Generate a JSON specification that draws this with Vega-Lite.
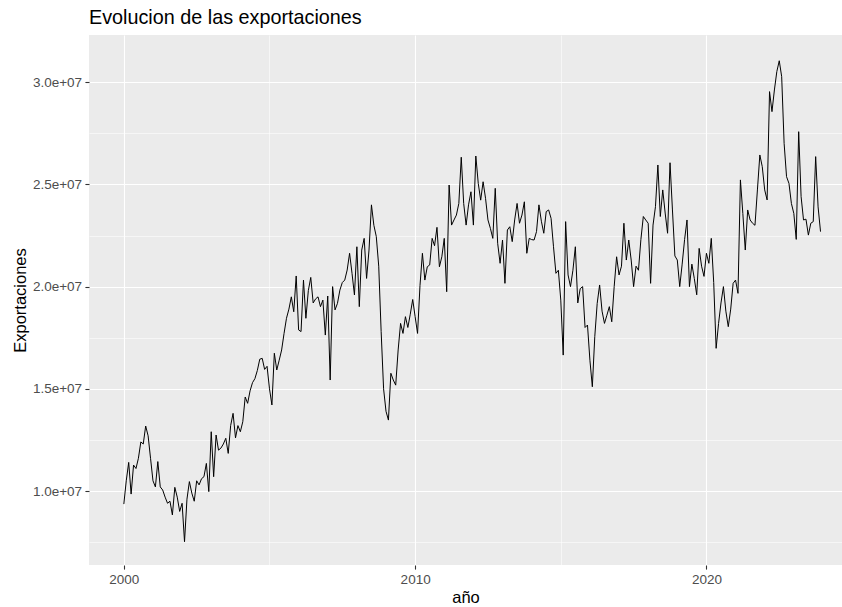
{
  "$schema": "https://vega.github.io/schema/vega-lite/v6.json",
  "width": 753,
  "height": 530,
  "autosize": {"type": "none"},
  "padding": {"left": 89, "top": 35, "right": 0, "bottom": 42},
  "background": "white",
  "title": {"text": "Evolucion de las exportaciones", "anchor": "start", "frame": "group", "font": "Liberation Sans", "fontSize": 19.8, "fontWeight": "normal", "color": "#000000", "offset": 7},
  "config": {
    "view": {"fill": "#EBEBEB", "stroke": null},
    "axis": {"domain": false, "labelFont": "Liberation Sans", "labelFontSize": 13.5, "labelColor": "#4D4D4D", "tickColor": "#333333", "tickSize": 4.1, "tickWidth": 1.1, "gridColor": "#FFFFFF", "gridOpacity": 1, "titleFont": "Liberation Sans", "titleFontSize": 16.5, "titleFontWeight": "normal", "titleColor": "#000000", "labelPadding": 3.3, "titlePadding": 4, "labelOverlap": false, "labelFlush": false}
  },
  "data": {"values": [
    {"t":2000,"v":9.36e6},{"t":2000.0833,"v":10.5e6},{"t":2000.1667,"v":11.4e6},{"t":2000.25,"v":9.85e6},{"t":2000.3333,"v":11.27e6},{"t":2000.4167,"v":11.1e6},{"t":2000.5,"v":11.6e6},{"t":2000.5833,"v":12.4e6},{"t":2000.6667,"v":12.3e6},{"t":2000.75,"v":13.18e6},{"t":2000.8333,"v":12.7e6},{"t":2000.9167,"v":11.6e6},
    {"t":2001,"v":10.5e6},{"t":2001.0833,"v":10.2e6},{"t":2001.1667,"v":11.44e6},{"t":2001.25,"v":10.2e6},{"t":2001.3333,"v":10.05e6},{"t":2001.4167,"v":9.7e6},{"t":2001.5,"v":9.4e6},{"t":2001.5833,"v":9.5e6},{"t":2001.6667,"v":8.83e6},{"t":2001.75,"v":10.18e6},{"t":2001.8333,"v":9.7e6},{"t":2001.9167,"v":9.0e6},
    {"t":2002,"v":9.4e6},{"t":2002.0833,"v":7.52e6},{"t":2002.1667,"v":9.6e6},{"t":2002.25,"v":10.46e6},{"t":2002.3333,"v":9.9e6},{"t":2002.4167,"v":9.5e6},{"t":2002.5,"v":10.5e6},{"t":2002.5833,"v":10.3e6},{"t":2002.6667,"v":10.6e6},{"t":2002.75,"v":10.7e6},{"t":2002.8333,"v":11.35e6},{"t":2002.9167,"v":9.97e6},
    {"t":2003,"v":12.9e6},{"t":2003.0833,"v":10.7e6},{"t":2003.1667,"v":12.74e6},{"t":2003.25,"v":12.0e6},{"t":2003.3333,"v":12.1e6},{"t":2003.4167,"v":12.3e6},{"t":2003.5,"v":12.58e6},{"t":2003.5833,"v":11.84e6},{"t":2003.6667,"v":13.2e6},{"t":2003.75,"v":13.8e6},{"t":2003.8333,"v":12.6e6},{"t":2003.9167,"v":13.2e6},
    {"t":2004,"v":12.9e6},{"t":2004.0833,"v":13.39e6},{"t":2004.1667,"v":14.6e6},{"t":2004.25,"v":14.29e6},{"t":2004.3333,"v":14.9e6},{"t":2004.4167,"v":15.3e6},{"t":2004.5,"v":15.5e6},{"t":2004.5833,"v":15.9e6},{"t":2004.6667,"v":16.45e6},{"t":2004.75,"v":16.49e6},{"t":2004.8333,"v":15.95e6},{"t":2004.9167,"v":16.1e6},
    {"t":2005,"v":15.0e6},{"t":2005.0833,"v":14.21e6},{"t":2005.1667,"v":16.74e6},{"t":2005.25,"v":15.92e6},{"t":2005.3333,"v":16.4e6},{"t":2005.4167,"v":16.9e6},{"t":2005.5,"v":17.71e6},{"t":2005.5833,"v":18.45e6},{"t":2005.6667,"v":18.9e6},{"t":2005.75,"v":19.5e6},{"t":2005.8333,"v":18.77e6},{"t":2005.9167,"v":20.52e6},
    {"t":2006,"v":17.88e6},{"t":2006.0833,"v":17.8e6},{"t":2006.1667,"v":20.32e6},{"t":2006.25,"v":18.45e6},{"t":2006.3333,"v":19.8e6},{"t":2006.4167,"v":20.45e6},{"t":2006.5,"v":19.2e6},{"t":2006.5833,"v":19.4e6},{"t":2006.6667,"v":19.5e6},{"t":2006.75,"v":19.02e6},{"t":2006.8333,"v":19.34e6},{"t":2006.9167,"v":17.63e6},
    {"t":2007,"v":19.54e6},{"t":2007.0833,"v":15.43e6},{"t":2007.1667,"v":20.0e6},{"t":2007.25,"v":18.86e6},{"t":2007.3333,"v":19.18e6},{"t":2007.4167,"v":19.83e6},{"t":2007.5,"v":20.2e6},{"t":2007.5833,"v":20.32e6},{"t":2007.6667,"v":20.81e6},{"t":2007.75,"v":21.63e6},{"t":2007.8333,"v":20.65e6},{"t":2007.9167,"v":19.59e6},
    {"t":2008,"v":21.95e6},{"t":2008.0833,"v":19.02e6},{"t":2008.1667,"v":21.79e6},{"t":2008.25,"v":22.36e6},{"t":2008.3333,"v":20.4e6},{"t":2008.4167,"v":21.79e6},{"t":2008.5,"v":24.0e6},{"t":2008.5833,"v":23.0e6},{"t":2008.6667,"v":22.45e6},{"t":2008.75,"v":21.0e6},{"t":2008.8333,"v":17.8e6},{"t":2008.9167,"v":15.0e6},
    {"t":2009,"v":13.9e6},{"t":2009.0833,"v":13.47e6},{"t":2009.1667,"v":15.76e6},{"t":2009.25,"v":15.43e6},{"t":2009.3333,"v":15.18e6},{"t":2009.4167,"v":16.9e6},{"t":2009.5,"v":18.2e6},{"t":2009.5833,"v":17.71e6},{"t":2009.6667,"v":18.53e6},{"t":2009.75,"v":18.0e6},{"t":2009.8333,"v":18.65e6},{"t":2009.9167,"v":19.37e6},
    {"t":2010,"v":18.53e6},{"t":2010.0833,"v":17.71e6},{"t":2010.1667,"v":20.05e6},{"t":2010.25,"v":21.63e6},{"t":2010.3333,"v":20.32e6},{"t":2010.4167,"v":20.97e6},{"t":2010.5,"v":21.06e6},{"t":2010.5833,"v":22.36e6},{"t":2010.6667,"v":22.0e6},{"t":2010.75,"v":22.9e6},{"t":2010.8333,"v":20.97e6},{"t":2010.9167,"v":21.46e6},
    {"t":2011,"v":22.36e6},{"t":2011.0833,"v":19.75e6},{"t":2011.1667,"v":24.97e6},{"t":2011.25,"v":23.01e6},{"t":2011.3333,"v":23.26e6},{"t":2011.4167,"v":23.5e6},{"t":2011.5,"v":24.07e6},{"t":2011.5833,"v":26.33e6},{"t":2011.6667,"v":24.07e6},{"t":2011.75,"v":23.01e6},{"t":2011.8333,"v":24.0e6},{"t":2011.9167,"v":24.64e6},
    {"t":2012,"v":23.01e6},{"t":2012.0833,"v":26.39e6},{"t":2012.1667,"v":25.05e6},{"t":2012.25,"v":24.23e6},{"t":2012.3333,"v":25.13e6},{"t":2012.4167,"v":24.32e6},{"t":2012.5,"v":23.26e6},{"t":2012.5833,"v":22.85e6},{"t":2012.6667,"v":22.36e6},{"t":2012.75,"v":24.81e6},{"t":2012.8333,"v":22.12e6},{"t":2012.9167,"v":21.14e6},
    {"t":2013,"v":22.28e6},{"t":2013.0833,"v":20.16e6},{"t":2013.1667,"v":22.77e6},{"t":2013.25,"v":22.93e6},{"t":2013.3333,"v":22.2e6},{"t":2013.4167,"v":23.26e6},{"t":2013.5,"v":24.07e6},{"t":2013.5833,"v":23.1e6},{"t":2013.6667,"v":23.5e6},{"t":2013.75,"v":24.15e6},{"t":2013.8333,"v":21.63e6},{"t":2013.9167,"v":22.36e6},
    {"t":2014,"v":22.3e6},{"t":2014.0833,"v":22.28e6},{"t":2014.1667,"v":22.69e6},{"t":2014.25,"v":24.0e6},{"t":2014.3333,"v":23.2e6},{"t":2014.4167,"v":22.61e6},{"t":2014.5,"v":23.67e6},{"t":2014.5833,"v":23.75e6},{"t":2014.6667,"v":23.34e6},{"t":2014.75,"v":21.95e6},{"t":2014.8333,"v":20.65e6},{"t":2014.9167,"v":20.8e6},
    {"t":2015,"v":19.34e6},{"t":2015.0833,"v":16.65e6},{"t":2015.1667,"v":23.18e6},{"t":2015.25,"v":20.57e6},{"t":2015.3333,"v":20.0e6},{"t":2015.4167,"v":20.8e6},{"t":2015.5,"v":21.95e6},{"t":2015.5833,"v":19.2e6},{"t":2015.6667,"v":19.9e6},{"t":2015.75,"v":20.0e6},{"t":2015.8333,"v":18.0e6},{"t":2015.9167,"v":18.12e6},
    {"t":2016,"v":16.4e6},{"t":2016.0833,"v":15.1e6},{"t":2016.1667,"v":17.55e6},{"t":2016.25,"v":19.18e6},{"t":2016.3333,"v":20.08e6},{"t":2016.4167,"v":18.8e6},{"t":2016.5,"v":18.2e6},{"t":2016.5833,"v":18.6e6},{"t":2016.6667,"v":19.02e6},{"t":2016.75,"v":18.28e6},{"t":2016.8333,"v":20.0e6},{"t":2016.9167,"v":21.46e6},
    {"t":2017,"v":20.57e6},{"t":2017.0833,"v":21.0e6},{"t":2017.1667,"v":23.1e6},{"t":2017.25,"v":21.3e6},{"t":2017.3333,"v":22.28e6},{"t":2017.4167,"v":21.3e6},{"t":2017.5,"v":20.0e6},{"t":2017.5833,"v":21.0e6},{"t":2017.6667,"v":20.8e6},{"t":2017.75,"v":22.3e6},{"t":2017.8333,"v":23.43e6},{"t":2017.9167,"v":23.26e6},
    {"t":2018,"v":23.1e6},{"t":2018.0833,"v":20.16e6},{"t":2018.1667,"v":23.01e6},{"t":2018.25,"v":23.91e6},{"t":2018.3333,"v":25.95e6},{"t":2018.4167,"v":23.43e6},{"t":2018.5,"v":24.73e6},{"t":2018.5833,"v":23.6e6},{"t":2018.6667,"v":22.61e6},{"t":2018.75,"v":26.06e6},{"t":2018.8333,"v":23.75e6},{"t":2018.9167,"v":21.5e6},
    {"t":2019,"v":21.3e6},{"t":2019.0833,"v":20.0e6},{"t":2019.1667,"v":21.1e6},{"t":2019.25,"v":22.3e6},{"t":2019.3333,"v":23.26e6},{"t":2019.4167,"v":20.0e6},{"t":2019.5,"v":21.1e6},{"t":2019.5833,"v":20.4e6},{"t":2019.6667,"v":19.6e6},{"t":2019.75,"v":21.87e6},{"t":2019.8333,"v":21.0e6},{"t":2019.9167,"v":20.5e6},
    {"t":2020,"v":21.63e6},{"t":2020.0833,"v":21.14e6},{"t":2020.1667,"v":22.36e6},{"t":2020.25,"v":20.2e6},{"t":2020.3333,"v":16.98e6},{"t":2020.4167,"v":18.2e6},{"t":2020.5,"v":19.2e6},{"t":2020.5833,"v":20.0e6},{"t":2020.6667,"v":18.8e6},{"t":2020.75,"v":18.04e6},{"t":2020.8333,"v":18.9e6},{"t":2020.9167,"v":20.16e6},
    {"t":2021,"v":20.32e6},{"t":2021.0833,"v":19.67e6},{"t":2021.1667,"v":25.22e6},{"t":2021.25,"v":23.58e6},{"t":2021.3333,"v":21.79e6},{"t":2021.4167,"v":23.75e6},{"t":2021.5,"v":23.26e6},{"t":2021.5833,"v":23.1e6},{"t":2021.6667,"v":23.0e6},{"t":2021.75,"v":24.73e6},{"t":2021.8333,"v":26.44e6},{"t":2021.9167,"v":25.87e6},
    {"t":2022,"v":24.73e6},{"t":2022.0833,"v":24.24e6},{"t":2022.1667,"v":29.54e6},{"t":2022.25,"v":28.56e6},{"t":2022.3333,"v":29.62e6},{"t":2022.4167,"v":30.52e6},{"t":2022.5,"v":31.05e6},{"t":2022.5833,"v":30.27e6},{"t":2022.6667,"v":27.01e6},{"t":2022.75,"v":25.38e6},{"t":2022.8333,"v":25.05e6},{"t":2022.9167,"v":24.07e6},
    {"t":2023,"v":23.58e6},{"t":2023.0833,"v":22.31e6},{"t":2023.1667,"v":27.58e6},{"t":2023.25,"v":24.4e6},{"t":2023.3333,"v":23.26e6},{"t":2023.4167,"v":23.3e6},{"t":2023.5,"v":22.52e6},{"t":2023.5833,"v":23.1e6},{"t":2023.6667,"v":23.18e6},{"t":2023.75,"v":26.36e6},{"t":2023.8333,"v":23.9e6},{"t":2023.9167,"v":22.69e6}
  ]},
  "mark": {"type": "line", "color": "#000000", "strokeWidth": 1, "strokeJoin": "round"},
  "encoding": {
    "x": {
      "field": "t", "type": "quantitative",
      "scale": {"domain": [1998.804, 2024.654], "nice": false, "zero": false},
      "axis": {
        "title": "año",
        "values": [2000, 2005, 2010, 2015, 2020],
        "format": "d",
        "labelExpr": "datum.value % 10 == 0 ? datum.label : ''",
        "tickOpacity": {"condition": {"test": "datum.value % 10 != 0", "value": 0}, "value": 1},
        "gridWidth": {"condition": {"test": "datum.value % 10 != 0", "value": 0.55}, "value": 1.1}
      }
    },
    "y": {
      "field": "v", "type": "quantitative",
      "scale": {"domain": [6380000, 32310000], "nice": false, "zero": false},
      "axis": {
        "title": "Exportaciones",
        "values": [7500000, 10000000, 12500000, 15000000, 17500000, 20000000, 22500000, 25000000, 27500000, 30000000],
        "labelExpr": "datum.value % 5000000 == 0 ? replace(format(datum.value, '.1e'), 'e+', 'e+0') : ''",
        "tickOpacity": {"condition": {"test": "datum.value % 5000000 != 0", "value": 0}, "value": 1},
        "gridWidth": {"condition": {"test": "datum.value % 5000000 != 0", "value": 0.55}, "value": 1.1}
      }
    }
  }
}
